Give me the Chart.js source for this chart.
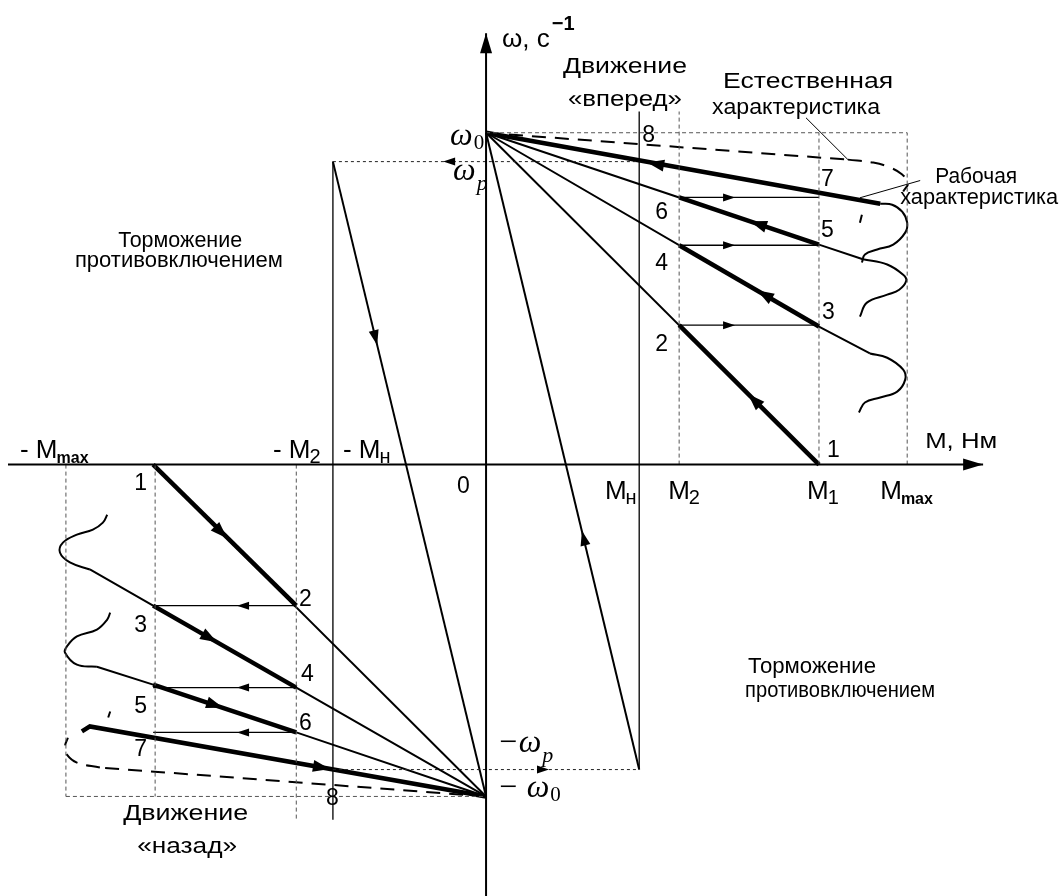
<!DOCTYPE html>
<html>
<head>
<meta charset="utf-8">
<script src="https://cdn.jsdelivr.net/npm/chart.js@4.4.0/dist/chart.umd.min.js"></script>
<style>
  html, body { margin: 0; background: #fff; }
  #wrap { width: 1062px; height: 896px; }
</style>
</head>
<body>
<div id="wrap"><canvas id="diagram"></canvas></div>
<script>
// ── Values: M in torque units (M1 = 100), ω in % of ω0 ──────────────────────
const axisM = [[-143.6, 0], [149.3, 0]];
const axisW = [[0, -130], [0, 130]];

// forward motion: characteristics from ω0
const charA = [[0, 100], [100, 0]];
const charB = [[0, 100], [100, 41.6], [115.3, 33.5]];
const charC = [[0, 100], [58, 80.5], [100, 66.3], [113.2, 61.9]];
const charWork = [[0, 100], [118.4, 78.6]];
const charNatural = [[0, 100], [108.7, 91.9]];

const bendB = [[115.3, 33.5], [120.5, 32.2], [125.3, 28.6], [125.9, 25.6], [123.5, 22.0], [118.4, 20.2], [113.8, 18.7], [112.0, 15.7]];
const bendC = [[113.2, 61.9], [120.5, 60.3], [125.3, 57.2], [126.2, 55.4], [124.1, 52.7], [120.5, 51.2], [114.4, 48.8], [112.3, 44.6]];
const bendWork = [[118.4, 78.6], [122.0, 78.3], [125.0, 76.2], [126.5, 72.9], [125.9, 69.9], [122.3, 66.3], [117.5, 64.8], [113.8, 63.3], [112.9, 60.9]];
const bendNatural = [[108.7, 91.9], [116.3, 91.0], [121.4, 89.5], [125.0, 87.4], [126.8, 85.0], [125.3, 82.3]];
const tailNatural = [[112.9, 75.3], [112.3, 72.9]];

const stepsFwd = [[[100, 0], [58, 42]], [[100, 41.6], [58, 66.1]], [[100, 66.3], [58, 80.5]]];
const jumpsFwd = [[[58, 42], [100, 42]], [[58, 66.1], [100, 66.1]], [[58, 80.5], [100, 80.5]]];

// reverse motion: characteristics from -ω0
const charA2 = [[-100, 0], [0, -100]];
const charB2 = [[0, -100], [-57, -67.2], [-100, -42.5], [-119, -31.6]];
const charC2 = [[0, -100], [-57, -80.7], [-100, -66.3], [-116.9, -60.9]];
const charWork2 = [[0, -100], [-119, -78.9], [-121.4, -80.4]];
const charNatural2 = [[0, -100], [-116, -91.3]];

const bendB2 = [[-119, -31.6], [-125, -29.5], [-128, -26.5], [-127.1, -23.5], [-122.9, -21.1], [-118.1, -19.6], [-115.1, -17.5], [-113.8, -15.1]];
const bendC2 = [[-116.9, -60.9], [-122.9, -60.3], [-126.5, -56.6], [-125.9, -54.8], [-122.9, -51.8], [-116.9, -49.7], [-113.8, -46.7], [-112.9, -44.6]];
const bendNatural2 = [[-116, -91.3], [-122.9, -89.8], [-125.9, -87.4], [-126.5, -85.0], [-125.6, -82.3]];
const tailNatural2 = [[-112.9, -74.4], [-113.5, -76.2]];

const stepsRev = [[[-100, 0], [-57, -42.5]], [[-100, -42.5], [-57, -67.2]], [[-100, -66.3], [-57, -80.7]]];
const jumpsRev = [[[-57, -42.5], [-100, -42.5]], [[-57, -67.2], [-100, -67.2]], [[-57, -80.7], [-100, -80.7]]];

// reversal transitions through ±ωp
const reversals = [[[-46, 91.3], [0, -100]], [[0, 100], [46, -91.9]]];
const speedLevels = [[[-46, 91.3], [46, 91.3]], [[-46, -91.9], [46, -91.9]]];
const nominalLines = [[[46, 106.4], [46, -91.9]], [[-46, 91.3], [-46, -107]]];

// torque / speed guide lines
const guides = [
  [[58, 0], [58, 106.4]], [[100, 0], [100, 100]], [[126.5, 0], [126.5, 100]], [[0, 100], [126.5, 100]],
  [[-57, 0], [-57, -107]], [[-99.4, 0], [-99.4, -100]], [[-126.2, 0], [-126.2, -100]], [[-126.2, -100], [0, -100]],
];
const leaders = [[[96.1, 104.5], [108.7, 91.9]], [[112.3, 80.4], [130.4, 85.6]]];

// arrowheads: tip (M, ω), pointing toward (M, ω), kind
const arrows = [
  [149.3, 0, 200, 0, "axis"], [0, 130, 0, 200, "axis"],
  [78.7, 21.3, 0, 100, "big"], [81.4, 52.5, 0, 100, "big"], [79.3, 73.3, 0, 100, "big"], [48.4, 91.0, 0, 100, "big"],
  [-77.8, -22.2, 0, -100, "big"], [-80.8, -53.5, 0, -100, "big"], [-79.0, -73.3, 0, -100, "big"], [-46.9, -91.7, 0, -100, "big"],
  [-32.7, 36.0, 0, -100, "mid"], [28.8, -19.9, 0, 100, "mid"],
  [74.8, 42, 100, 42, "small"], [74.8, 66.1, 100, 66.1, "small"], [74.8, 80.5, 100, 80.5, "small"],
  [-74.8, -42.5, -100, -42.5, "small"], [-74.8, -67.2, -100, -67.2, "small"], [-74.8, -80.7, -100, -80.7, "small"],
  [-12.9, 91.3, -46, 91.3, "small"], [18.9, -91.9, 46, -91.9, "small"],
];
const arrowSize = { axis: [20, 6], big: [17, 6], mid: [15, 5], small: [12, 4] };

// ── Text ──────────────────────────────────────────────────────────────────────
const SANS = '"Liberation Sans", Arial, sans-serif';
const SERIF = '"Liberation Serif", "Times New Roman", serif';

// [text, M, ω (left, baseline), width px]
const words = [
  ["Движение", 23.1, 118.1, 124], ["«вперед»", 24.6, 108.2, 114],
  ["Естественная", 71.2, 113.6, 170], ["характеристика", 67.9, 105.5, 168],
  ["Рабочая", 134.9, 85.0, 82], ["характеристика", 124.4, 78.6, 158],
  ["Торможение", -110.5, 65.7, 124], ["противовключением", -123.5, 59.4, 208],
  ["Торможение", 78.7, -62.7, 128], ["противовключением", 77.8, -69.9, 190],
  ["Движение", -109.0, -107.0, 125], ["«назад»", -104.8, -116.9, 100],
  ["M, Нм", 131.9, 5.1, 72],
];
const pointNums = [
  ["8", 46.9, 97.3], ["7", 100.6, 84.1], ["6", 50.8, 74.1], ["5", 100.6, 68.7],
  ["4", 50.8, 58.5], ["3", 100.9, 44.0], ["2", 50.8, 34.3], ["1", 102.4, 2.4],
  ["1", -105.7, -7.8], ["2", -56.2, -42.5], ["3", -105.7, -50.3], ["4", -55.6, -65.1],
  ["5", -105.7, -75.0], ["6", -56.2, -80.1], ["7", -105.7, -87.7], ["8", -48.1, -102.7],
  ["0", -8.7, -8.7],
];
// [text, subscript, M, ω]
const torqueTicks = [
  ["- M", "max", -140.0, 2.1], ["- M", "2", -64.0, 2.1], ["- M", "н", -43.0, 2.1],
  ["M", "н", 35.7, -10.5], ["M", "2", 54.7, -10.5], ["M", "1", 96.4, -10.5], ["M", "max", 118.4, -10.5],
];
// [text, subscript, M, ω]
const speedTicks = [
  ["ω", "0", -10.8, 96.4], ["ω", "p", -9.9, 85.9],
  ["−ω", "p", 3.3, -86.5], ["− ω", "0", 3.3, -100.3],
];

// ── Datasets ─────────────────────────────────────────────────────────────────
function path(points, style) {
  return Object.assign({
    data: points.map(([x, y]) => ({ x, y })),
    showLine: true,
    pointRadius: 0,
    borderColor: "#000",
    borderWidth: 2,
    borderCapStyle: "butt",
    tension: 0,
    fill: false,
    clip: false,
  }, style);
}

const THIN = { borderWidth: 2 };
const THICK = { borderWidth: 4.5 };
const BEND = { borderWidth: 2, tension: 0.4 };
const NATURAL = { borderWidth: 2, borderDash: [14, 9] };
const NATURAL_BEND = { borderWidth: 2, borderDash: [14, 9], tension: 0.4 };
const GUIDE = { borderWidth: 1, borderDash: [4, 3], borderColor: "#555" };
const DOTTED = { borderWidth: 1, borderDash: [3, 3], borderColor: "#222" };

const datasets = [
  path(axisM, { borderWidth: 2 }), path(axisW, { borderWidth: 2 }),
  ...guides.map((g) => path(g, GUIDE)),
  ...speedLevels.map((s) => path(s, DOTTED)),
  ...nominalLines.map((n) => path(n, { borderWidth: 1.3 })),
  ...reversals.map((r) => path(r, THIN)),
  ...leaders.map((l) => path(l, { borderWidth: 1 })),
  path(charA, THIN), path(charB, THIN), path(charC, THIN), path(charWork, THICK),
  path(charNatural, NATURAL), path(bendNatural, NATURAL_BEND), path(tailNatural, NATURAL),
  path(bendB, BEND), path(bendC, BEND), path(bendWork, BEND),
  path(charA2, THIN), path(charB2, THIN), path(charC2, THIN), path(charWork2, THICK),
  path(charNatural2, NATURAL), path(bendNatural2, NATURAL_BEND), path(tailNatural2, NATURAL),
  path(bendB2, BEND), path(bendC2, BEND),
  ...stepsFwd.map((s) => path(s, THICK)), ...stepsRev.map((s) => path(s, THICK)),
  ...jumpsFwd.map((j) => path(j, { borderWidth: 1.3 })), ...jumpsRev.map((j) => path(j, { borderWidth: 1.3 })),
];

// ── Arrowheads and labels ────────────────────────────────────────────────────
const annotate = {
  id: "annotate",
  afterDatasetsDraw(chart) {
    const { ctx } = chart;
    const sx = chart.scales.x, sy = chart.scales.y;
    const px = (m) => sx.getPixelForValue(m);
    const py = (w) => sy.getPixelForValue(w);

    ctx.save();
    ctx.fillStyle = "#000";
    arrows.forEach(([m, w, tm, tw, kind]) => {
      const [len, half] = arrowSize[kind];
      const x0 = px(m), y0 = py(w);
      const a = Math.atan2(py(tw) - y0, px(tm) - x0);
      const c = Math.cos(a), s = Math.sin(a);
      ctx.beginPath();
      ctx.moveTo(x0, y0);
      ctx.lineTo(x0 - len * c + half * s, y0 - len * s - half * c);
      ctx.lineTo(x0 - len * c - half * s, y0 - len * s + half * c);
      ctx.closePath();
      ctx.fill();
    });

    ctx.textBaseline = "alphabetic";
    ctx.textAlign = "left";

    ctx.font = "22px " + SANS;
    words.forEach(([t, m, w, width]) => {
      const natural = ctx.measureText(t).width;
      ctx.save();
      ctx.translate(px(m), py(w));
      ctx.scale(width / natural, 1);
      ctx.fillText(t, 0, 0);
      ctx.restore();
    });

    ctx.font = "23px " + SANS;
    pointNums.forEach(([t, m, w]) => ctx.fillText(t, px(m), py(w)));

    torqueTicks.forEach(([t, sub, m, w]) => {
      ctx.font = "26px " + SANS;
      ctx.fillText(t, px(m), py(w));
      const tw = ctx.measureText(t).width;
      ctx.font = (sub === "max" ? "bold 16px " : "20px ") + SANS;
      ctx.fillText(sub, px(m) + tw - 1, py(w) + 5);
    });

    speedTicks.forEach(([t, sub, m, w]) => {
      ctx.font = "italic 32px " + SERIF;
      ctx.fillText(t, px(m), py(w));
      const tw = ctx.measureText(t).width;
      ctx.font = (sub === "p" ? "italic 22px " : "21px ") + SERIF;
      ctx.fillText(sub, px(m) + tw + 1, py(w) + (sub === "p" ? 10 : 4));
    });

    // axis title ω, с^-1
    ctx.font = "26px " + SANS;
    ctx.fillText("ω, с", px(4.8), py(125.9));
    const aw = ctx.measureText("ω, с").width;
    ctx.font = "bold 20px " + SANS;
    ctx.fillText("−1", px(4.8) + aw + 2, py(125.9) - 17);
    ctx.restore();
  },
};

new Chart(document.getElementById("diagram"), {
  type: "scatter",
  data: { datasets },
  options: {
    responsive: true,
    maintainAspectRatio: false,
    animation: false,
    events: [],
    layout: { padding: 0 },
    plugins: { legend: { display: false }, tooltip: { enabled: false } },
    scales: {
      x: { type: "linear", min: -146, max: 173, display: false },
      y: { type: "linear", min: -130, max: 140, display: false },
    },
  },
  plugins: [annotate],
});
</script>
</body>
</html>
